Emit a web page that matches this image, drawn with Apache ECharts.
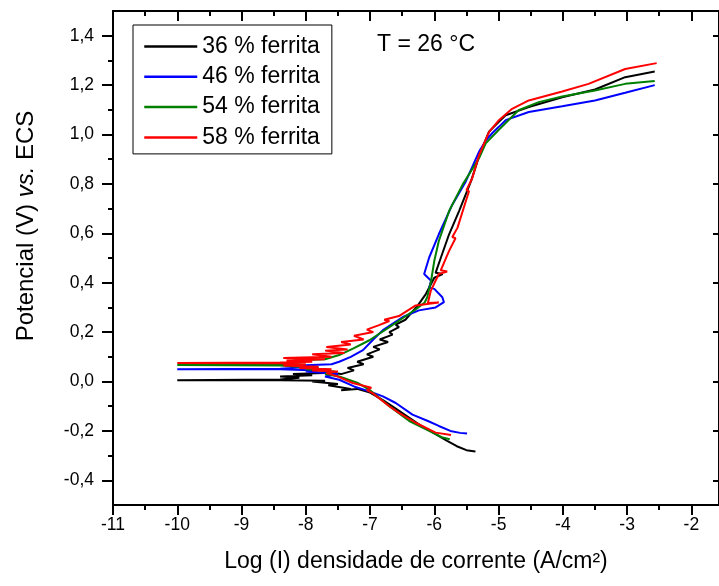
<!DOCTYPE html>
<html>
<head>
<meta charset="utf-8">
<script src="https://cdn.jsdelivr.net/npm/echarts@6.0.0/dist/echarts.min.js"></script>
<style>
html,body{margin:0;padding:0;background:#fff;}
#chart{width:719px;height:586px;}
</style>
</head>
<body>
<div id="chart"></div>
<script>
// ---- Data ----
const seriesNames = ['36 % ferrita', '46 % ferrita', '54 % ferrita', '58 % ferrita'];
const seriesColors = ['#000000', '#0000ff', '#008000', '#ff0000'];

const logI_36 = [-5.36,-5.5,-5.65,-5.8,-6.0,-6.2,-6.4,-6.6,-6.8,-7.0,-7.2,-7.45,-7.3,-7.65,-7.5,-7.9,-7.7,-8.4,-10,-8.4,-8.1,-8.4,-7.9,-8.2,-7.6,-7.45,
  -7.25,-7.35,-7.1,-7.2,-6.95,-7.05,-6.85,-6.95,-6.72,-6.85,-6.65,-6.7,-6.55,-6.6,-6.45,-6.35,-6.25,-6.13,-6.0,-5.87,-5.98,-5.9,-5.77,-5.615,-5.43,-5.28,-5.15,-5.0,-4.89,-4.53,-4.01,-3.5,-3.03,-2.57];
const E_36 = [-0.283,-0.278,-0.262,-0.24,-0.21,-0.18,-0.145,-0.11,-0.075,-0.045,-0.03,-0.035,-0.03,-0.015,-0.01,0.0,0.003,0.005,0.005,0.008,0.015,0.02,0.025,0.03,0.035,0.03,
  0.045,0.055,0.07,0.08,0.1,0.11,0.13,0.14,0.16,0.17,0.19,0.2,0.22,0.23,0.25,0.28,0.31,0.355,0.42,0.435,0.44,0.5,0.596,0.69,0.81,0.93,1.011,1.05,1.078,1.111,1.151,1.182,1.232,1.255];

const logI_46 = [-5.49,-5.6,-5.75,-5.93,-6.1,-6.34,-6.6,-6.8,-7.01,-7.25,-7.48,-7.7,-7.5,-8.0,-7.8,-8.4,-10,-8.4,-7.9,-8.1,-7.6,-7.48,-7.3,-7.11,-6.95,-6.8,-6.49,-6.24,-5.98,-5.85,-5.875,-6.0,-6.08,-6.05,-6.158,-6.08,-5.93,-5.72,-5.51,-5.305,-5.2,-5.1,-5.0,-4.89,-4.53,-4.01,-3.5,-3.03,-2.57];
const E_46 = [-0.211,-0.208,-0.2,-0.18,-0.16,-0.134,-0.087,-0.06,-0.04,-0.02,0.007,0.02,0.03,0.04,0.045,0.05,0.05,0.052,0.06,0.065,0.07,0.08,0.1,0.127,0.17,0.208,0.261,0.288,0.30,0.321,0.341,0.375,0.38,0.408,0.435,0.502,0.596,0.716,0.81,0.93,0.975,1.005,1.03,1.058,1.091,1.114,1.138,1.169,1.20];

const logI_54 = [-5.76,-5.87,-6.08,-6.39,-6.7,-7.01,-7.2,-7.48,-7.7,-7.55,-8.0,-7.8,-8.4,-10,-8.4,-8.0,-8.2,-7.7,-7.48,-7.25,-7.01,-6.7,-6.5,-6.3,-6.15,-6.11,-6.05,-6.0,-5.93,-5.77,-5.56,-5.305,-5.2,-5.0,-4.69,-4.375,-4.01,-3.5,-3.03,-2.57];
const E_54 = [-0.234,-0.227,-0.2,-0.16,-0.1,-0.033,-0.005,0.02,0.03,0.04,0.05,0.055,0.065,0.067,0.068,0.08,0.085,0.09,0.107,0.135,0.167,0.22,0.255,0.29,0.32,0.341,0.408,0.489,0.569,0.69,0.797,0.904,0.964,1.018,1.098,1.131,1.154,1.178,1.205,1.217];

const logI_58 = [-5.74,-5.98,-6.29,-6.55,-6.7,-6.96,-7.05,-6.98,-7.27,-7.5,-7.68,-7.5,-7.9,-7.6,-8.1,-7.8,-8.35,-8.0,-8.4,-10,-8.4,-7.9,-8.3,-7.7,-8.35,-7.6,-7.9,-7.4,-7.7,-7.35,-7.68,-7.3,-7.45,-7.1,-7.25,-6.95,-7.05,-6.86,-6.7,-6.78,-6.55,-6.49,-6.29,-5.93,-6.1,-6.054,-5.93,-5.8,-5.9,-5.77,-5.67,-5.72,-5.64,-5.51,-5.46,-5.5,-5.41,-5.305,-5.15,-4.995,-4.79,-4.53,-4.01,-3.6,-3.03,-2.54];
const E_58 = [-0.217,-0.207,-0.167,-0.127,-0.1,-0.047,-0.035,-0.025,-0.006,0.02,0.034,0.04,0.045,0.05,0.055,0.06,0.065,0.07,0.074,0.075,0.077,0.08,0.085,0.09,0.095,0.1,0.11,0.115,0.125,0.13,0.14,0.15,0.16,0.17,0.185,0.2,0.21,0.228,0.245,0.25,0.265,0.275,0.308,0.32,0.318,0.368,0.435,0.445,0.45,0.529,0.58,0.585,0.622,0.73,0.77,0.775,0.823,0.915,1.01,1.058,1.104,1.138,1.174,1.205,1.265,1.289];

const xMajorTicks = [-11,-10,-9,-8,-7,-6,-5,-4,-3,-2];
const xMinorTicks = [-10.5,-9.5,-8.5,-7.5,-6.5,-5.5,-4.5,-3.5,-2.5];
const yMajorTicks = [-0.4,-0.2,0,0.2,0.4,0.6,0.8,1.0,1.2,1.4];
const yMinorTicks = [-0.3,-0.1,0.1,0.3,0.5,0.7,0.9,1.1,1.3];

// ---- Chart ----
const FONT = '"Liberation Sans", Arial, sans-serif';
const X_MIN = -11, X_MAX = -1.57, Y_MIN = -0.5, Y_MAX = 1.5;
const axisLineStyle = { color: '#000', width: 2 };

function zip(xs, ys) { return xs.map((x, i) => [x, ys[i]]); }
const allX = [logI_36, logI_46, logI_54, logI_58];
const allY = [E_36, E_46, E_54, E_58];

function baseAxis(extra) {
  return Object.assign({
    type: 'value',
    splitLine: { show: false },
    axisLabel: { show: false },
    axisLine: { show: false, onZero: false }
  }, extra);
}

const chart = echarts.init(document.getElementById('chart'), null, { renderer: 'canvas' });
chart.setOption({
  animation: false,
  backgroundColor: '#fff',
  textStyle: { fontFamily: FONT, color: '#000' },
  grid: { left: 113, right: -2, top: 11, bottom: 81, containLabel: false },
  title: {
    text: 'T = 26 °C',
    left: 377, top: 33, padding: 0,
    textStyle: { fontFamily: FONT, fontSize: 23, lineHeight: 24, fontWeight: 'normal', color: '#000' }
  },
  legend: {
    orient: 'vertical',
    left: 133, top: 25,
    data: seriesNames,
    backgroundColor: '#fff',
    borderColor: '#000', borderWidth: 1, borderRadius: 0,
    padding: [10, 12, 5, 10],
    itemGap: 7.3,
    itemWidth: 53, itemHeight: 22,
    itemStyle: { opacity: 0, borderWidth: 0 },
    lineStyle: { width: 2.5 },
    textStyle: { fontFamily: FONT, fontSize: 23, color: '#000' }
  },
  xAxis: [
    baseAxis({
      position: 'bottom', min: X_MIN, max: X_MAX,
      axisLine: { show: true, onZero: false, lineStyle: axisLineStyle },
      axisTick: { show: true, inside: false, length: 10, lineStyle: axisLineStyle, customValues: xMajorTicks },
      axisLabel: { show: true, customValues: xMajorTicks, fontFamily: FONT, fontSize: 17.5, color: '#000', margin: 11,
                   formatter: v => String(v) },
      name: 'Log (I) densidade de corrente (A/cm²)',
      nameLocation: 'middle', nameGap: 44,
      nameTextStyle: { fontFamily: FONT, fontSize: 23, lineHeight: 25, color: '#000' }
    }),
    baseAxis({
      position: 'bottom', min: X_MIN, max: X_MAX,
      axisTick: { show: true, inside: false, length: 5, lineStyle: axisLineStyle, customValues: xMinorTicks }
    }),
    baseAxis({
      position: 'top', min: X_MIN, max: X_MAX,
      axisLine: { show: true, onZero: false, lineStyle: axisLineStyle },
      axisTick: { show: true, inside: true, length: 10, lineStyle: axisLineStyle, customValues: xMajorTicks }
    }),
    baseAxis({
      position: 'top', min: X_MIN, max: X_MAX,
      axisTick: { show: true, inside: true, length: 5, lineStyle: axisLineStyle, customValues: xMinorTicks }
    })
  ],
  yAxis: [
    baseAxis({
      position: 'left', min: Y_MIN, max: Y_MAX,
      axisLine: { show: true, onZero: false, lineStyle: axisLineStyle },
      axisTick: { show: true, inside: false, length: 11, lineStyle: axisLineStyle, customValues: yMajorTicks },
      axisLabel: { show: true, customValues: yMajorTicks, fontFamily: FONT, fontSize: 17.5, color: '#000', margin: 19,
                   formatter: v => v.toFixed(1).replace('.', ',').replace('-0,0', '0,0') },
      name: 'Potencial (V) {it|vs.} ECS',
      nameLocation: 'middle', nameGap: 75,
      nameTextStyle: { fontFamily: FONT, fontSize: 24, color: '#000', padding: [0, 0, 0, 64],
        rich: { it: { fontFamily: FONT, fontSize: 24, fontStyle: 'italic', color: '#000' } } }
    }),
    baseAxis({
      position: 'left', min: Y_MIN, max: Y_MAX,
      axisTick: { show: true, inside: false, length: 5, lineStyle: axisLineStyle, customValues: yMinorTicks }
    }),
    baseAxis({
      position: 'right', min: Y_MIN, max: Y_MAX,
      axisLine: { show: true, onZero: false, lineStyle: axisLineStyle },
      axisTick: { show: true, inside: true, length: 6, lineStyle: axisLineStyle, customValues: yMajorTicks }
    })
  ],
  series: seriesNames.map((name, i) => ({
    name: name,
    type: 'line',
    xAxisIndex: 0,
    yAxisIndex: 0,
    data: zip(allX[i], allY[i]),
    showSymbol: false,
    symbol: 'none',
    smooth: false,
    clip: true,
    color: seriesColors[i],
    lineStyle: { color: seriesColors[i], width: 2 },
    z: 2 + i
  }))
});
</script>
</body>
</html>
